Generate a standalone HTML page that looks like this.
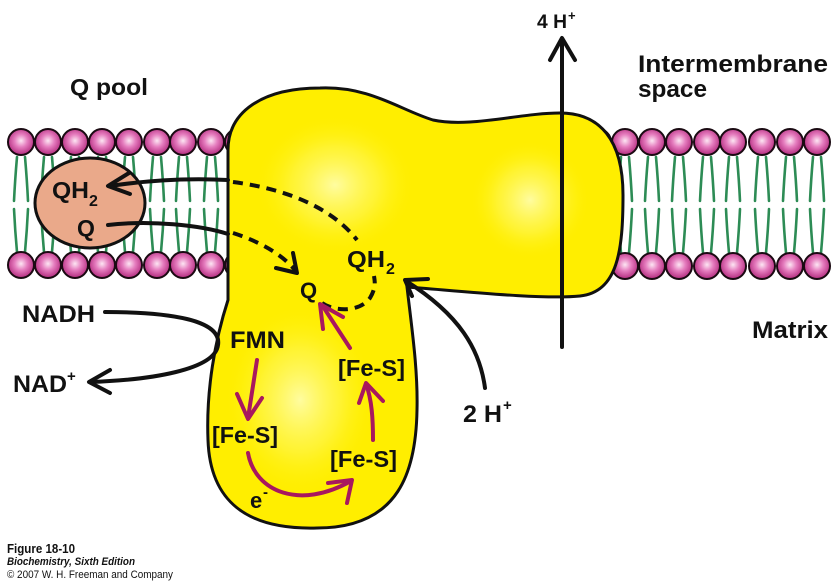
<!DOCTYPE html>
<html><head><meta charset="utf-8"><style>
html,body{margin:0;padding:0;background:#fff;}
svg{display:block;}
text{font-family:"Liberation Sans",sans-serif;font-weight:bold;fill:#111;}
</style></head><body>
<svg width="840" height="582" viewBox="0 0 840 582" xmlns="http://www.w3.org/2000/svg">
<defs>
<radialGradient id="head" cx="50%" cy="45%" r="55%">
<stop offset="0" stop-color="#fde6f3"/><stop offset="0.45" stop-color="#e57cbe"/><stop offset="1" stop-color="#b22a7d"/>
</radialGradient>
<radialGradient id="hl" cx="50%" cy="50%" r="50%">
<stop offset="0" stop-color="#fffca0" stop-opacity="1"/><stop offset="0.55" stop-color="#fff860" stop-opacity="0.5"/><stop offset="1" stop-color="#fff000" stop-opacity="0"/>
</radialGradient>
<clipPath id="pc"><path d="M228 300 L228 150 C228 112 262 88 320 88 C370 86 400 110 433 120 C470 128 520 113 560 113 C600 113 623 140 623 195 C623 250 618 292 580 296 C540 300 450 290 407 287 C412 330 418 370 417 410 C416 470 400 528 317 528 C245 530 210 500 208 440 C206 390 215 340 228 300 Z"/></clipPath>
</defs>

<!-- lipid tails -->
<g stroke="#2d8c55" stroke-width="2.6" fill="none" stroke-linecap="round">
<path d="M17 157 Q15 180 14 201 M25 157 Q27 180 28 201 M44 157 Q42 180 41 201 M52 157 Q54 180 55 201 M71 157 Q69 180 68 201 M79 157 Q81 180 82 201 M98 157 Q96 180 95 201 M106 157 Q108 180 109 201 M125 157 Q123 180 122 201 M133 157 Q135 180 136 201 M153 157 Q151 180 150 201 M161 157 Q163 180 164 201 M179 157 Q177 180 176 201 M187 157 Q189 180 190 201 M207 157 Q205 180 204 201 M215 157 Q217 180 218 201"/>
<path d="M17 252 Q15 230 14 209 M25 252 Q27 230 28 209 M44 252 Q42 230 41 209 M52 252 Q54 230 55 209 M71 252 Q69 230 68 209 M79 252 Q81 230 82 209 M98 252 Q96 230 95 209 M106 252 Q108 230 109 209 M125 252 Q123 230 122 209 M133 252 Q135 230 136 209 M153 252 Q151 230 150 209 M161 252 Q163 230 164 209 M179 252 Q177 230 176 209 M187 252 Q189 230 190 209 M207 252 Q205 230 204 209 M215 252 Q217 230 218 209"/>
<path d="M621 157 Q619 180 618 201 M629 157 Q631 180 632 201 M648 157 Q646 180 645 201 M656 157 Q658 180 659 201 M675 157 Q673 180 672 201 M683 157 Q685 180 686 201 M703 157 Q701 180 700 201 M711 157 Q713 180 714 201 M729 157 Q727 180 726 201 M737 157 Q739 180 740 201 M758 157 Q756 180 755 201 M766 157 Q768 180 769 201 M786 157 Q784 180 783 201 M794 157 Q796 180 797 201 M813 157 Q811 180 810 201 M821 157 Q823 180 824 201"/>
<path d="M621 253 Q619 230 618 209 M629 253 Q631 230 632 209 M648 253 Q646 230 645 209 M656 253 Q658 230 659 209 M675 253 Q673 230 672 209 M683 253 Q685 230 686 209 M703 253 Q701 230 700 209 M711 253 Q713 230 714 209 M729 253 Q727 230 726 209 M737 253 Q739 230 740 209 M758 253 Q756 230 755 209 M766 253 Q768 230 769 209 M786 253 Q784 230 783 209 M794 253 Q796 230 797 209 M813 253 Q811 230 810 209 M821 253 Q823 230 824 209"/>
</g>

<!-- lipid heads -->
<g fill="url(#head)" stroke="#1a0a12" stroke-width="2">
<circle cx="21" cy="142" r="13"/><circle cx="48" cy="142" r="13"/><circle cx="75" cy="142" r="13"/><circle cx="102" cy="142" r="13"/><circle cx="129" cy="142" r="13"/><circle cx="157" cy="142" r="13"/><circle cx="183" cy="142" r="13"/><circle cx="211" cy="142" r="13"/><circle cx="238" cy="142" r="13"/>
<circle cx="21" cy="265" r="13"/><circle cx="48" cy="265" r="13"/><circle cx="75" cy="265" r="13"/><circle cx="102" cy="265" r="13"/><circle cx="129" cy="265" r="13"/><circle cx="157" cy="265" r="13"/><circle cx="183" cy="265" r="13"/><circle cx="211" cy="265" r="13"/><circle cx="238" cy="265" r="13"/>
<circle cx="598" cy="142" r="13"/><circle cx="625" cy="142" r="13"/><circle cx="652" cy="142" r="13"/><circle cx="679" cy="142" r="13"/><circle cx="707" cy="142" r="13"/><circle cx="733" cy="142" r="13"/><circle cx="762" cy="142" r="13"/><circle cx="790" cy="142" r="13"/><circle cx="817" cy="142" r="13"/>
<circle cx="598" cy="266" r="13"/><circle cx="625" cy="266" r="13"/><circle cx="652" cy="266" r="13"/><circle cx="679" cy="266" r="13"/><circle cx="707" cy="266" r="13"/><circle cx="733" cy="266" r="13"/><circle cx="762" cy="266" r="13"/><circle cx="790" cy="266" r="13"/><circle cx="817" cy="266" r="13"/>
</g>

<!-- Q pool -->
<ellipse cx="90" cy="203" rx="55" ry="45" fill="#eaa98a" stroke="#111" stroke-width="3"/>

<!-- protein -->
<path d="M228 300 L228 150 C228 112 262 88 320 88 C370 86 400 110 433 120 C470 128 520 113 560 113 C600 113 623 140 623 195 C623 250 618 292 580 296 C540 300 450 290 407 287 C412 330 418 370 417 410 C416 470 400 528 317 528 C245 530 210 500 208 440 C206 390 215 340 228 300 Z" fill="#ffee00"/>
<g clip-path="url(#pc)">
<ellipse cx="335" cy="185" rx="80" ry="70" fill="url(#hl)"/>
<ellipse cx="530" cy="200" rx="60" ry="60" fill="url(#hl)"/>
<ellipse cx="300" cy="400" rx="75" ry="95" fill="url(#hl)"/>
</g>
<path d="M228 300 L228 150 C228 112 262 88 320 88 C370 86 400 110 433 120 C470 128 520 113 560 113 C600 113 623 140 623 195 C623 250 618 292 580 296 C540 300 450 290 407 287 C412 330 418 370 417 410 C416 470 400 528 317 528 C245 530 210 500 208 440 C206 390 215 340 228 300 Z" fill="none" stroke="#111" stroke-width="3"/>

<!-- black arrows -->
<g stroke="#111" stroke-width="4" fill="none" stroke-linecap="round" stroke-linejoin="round">
<path d="M228 180 C190 178 150 180 110 186"/>
<path d="M129 173 L108 186 L130 194"/>
<path d="M108 225 C150 220 200 225 228 234"/>
<path d="M562 347 L562 39"/>
<path d="M550 60 L562 38 L575 60"/>
<path d="M485 388 C480 350 460 315 406 281"/>
<path d="M428 279 L405 280 L412 296"/>
<path d="M105 312 C170 312 222 320 218 345 C215 370 150 380 90 382"/>
<path d="M110 370 L89 382 L110 393"/>
</g>
<g stroke="#111" stroke-width="4" fill="none" stroke-dasharray="10 7">
<path d="M233 182 C280 188 330 205 357 240"/>
<path d="M233 233 C255 240 280 252 295 270"/>
<path d="M322 303 C335 312 360 312 370 298 C376 288 375 282 374 276"/>
</g>
<path d="M276 268 L297 273 L293 253" stroke="#111" stroke-width="4" fill="none" stroke-linecap="round" stroke-linejoin="round"/>

<!-- magenta arrows -->
<g stroke="#a8175f" stroke-width="4" fill="none" stroke-linecap="round" stroke-linejoin="round">
<path d="M257 360 L248 418"/>
<path d="M237 394 L248 419 L262 398"/>
<path d="M248 453 C255 492 300 510 351 481"/>
<path d="M328 483 L352 480 L347 503"/>
<path d="M373 440 C373 420 372 400 366 384"/>
<path d="M359 403 L366 383 L383 401"/>
<path d="M350 348 L322 305"/>
<path d="M323 329 L320 304 L343 317"/>
</g>

<!-- labels -->
<text x="70" y="95" font-size="23" textLength="78" lengthAdjust="spacingAndGlyphs">Q pool</text>
<text x="537" y="28" font-size="19" textLength="30" lengthAdjust="spacingAndGlyphs">4 H</text>
<text x="568" y="20" font-size="13">+</text>
<text x="638" y="72" font-size="24" textLength="190" lengthAdjust="spacingAndGlyphs">Intermembrane</text>
<text x="638" y="97" font-size="24" textLength="69" lengthAdjust="spacingAndGlyphs">space</text>
<text x="752" y="338" font-size="24" textLength="76" lengthAdjust="spacingAndGlyphs">Matrix</text>
<text x="22" y="322" font-size="24" textLength="73" lengthAdjust="spacingAndGlyphs">NADH</text>
<text x="13" y="392" font-size="24" textLength="54" lengthAdjust="spacingAndGlyphs">NAD</text>
<text x="67" y="381" font-size="15">+</text>
<text x="230" y="348" font-size="24" textLength="55" lengthAdjust="spacingAndGlyphs">FMN</text>
<text x="212" y="443" font-size="23" textLength="66" lengthAdjust="spacingAndGlyphs">[Fe-S]</text>
<text x="330" y="467" font-size="23" textLength="67" lengthAdjust="spacingAndGlyphs">[Fe-S]</text>
<text x="338" y="376" font-size="23" textLength="67" lengthAdjust="spacingAndGlyphs">[Fe-S]</text>
<text x="250" y="508" font-size="22">e</text>
<text x="263" y="497" font-size="15">-</text>
<text x="463" y="422" font-size="24" textLength="39" lengthAdjust="spacingAndGlyphs">2 H</text>
<text x="503" y="410" font-size="15">+</text>
<text x="52" y="198" font-size="23" textLength="37" lengthAdjust="spacingAndGlyphs">QH</text>
<text x="89" y="206" font-size="16">2</text>
<text x="77" y="236" font-size="23">Q</text>
<text x="300" y="298" font-size="22">Q</text>
<text x="347" y="267" font-size="23" textLength="38" lengthAdjust="spacingAndGlyphs">QH</text>
<text x="386" y="274" font-size="16">2</text>

<!-- footer -->
<text x="7" y="553" font-size="12.5" textLength="68" lengthAdjust="spacingAndGlyphs">Figure 18-10</text>
<text x="7" y="565" font-size="11" font-style="italic" textLength="128" lengthAdjust="spacingAndGlyphs">Biochemistry, Sixth Edition</text>
<text x="7" y="578" font-size="11" style="font-weight:normal" textLength="166" lengthAdjust="spacingAndGlyphs">© 2007 W. H. Freeman and Company</text>
</svg>
</body></html>
